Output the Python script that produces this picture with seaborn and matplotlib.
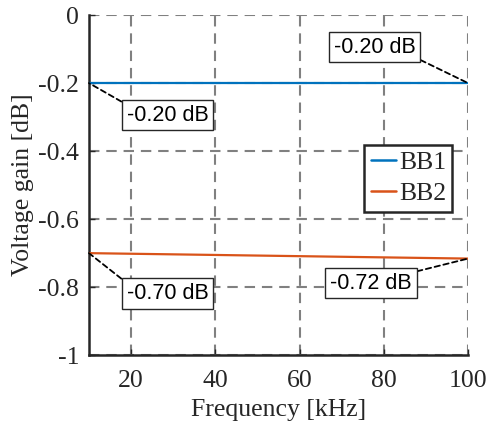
import matplotlib
matplotlib.use("Agg")
import matplotlib.pyplot as plt
import seaborn as sns
import pandas as pd

freq = [10, 100]
bb1 = [-0.20, -0.20]
bb2 = [-0.70, -0.716]
series_names = ["BB1", "BB2"]
colors = ["#0072BD", "#D95319"]
xticks = [20, 40, 60, 80, 100]
yticks = [0, -0.2, -0.4, -0.6, -0.8, -1]
ytick_labels = ["0", "-0.2", "-0.4", "-0.6", "-0.8", "-1"]

sns.set_theme(style="ticks")
plt.rcParams["font.family"] = ["Liberation Serif", "DejaVu Serif"]
plt.rcParams["axes.unicode_minus"] = False

df = pd.DataFrame({
    "freq": freq + freq,
    "gain": bb1 + bb2,
    "series": [series_names[0]] * len(freq) + [series_names[1]] * len(freq),
})

fig = plt.figure(figsize=(4.86, 4.30), dpi=100)
ax = fig.add_axes([0.183, 0.174, 0.780, 0.791])

sns.lineplot(data=df, x="freq", y="gain", hue="series", palette=colors,
             linewidth=1.6, ax=ax, zorder=3)

ax.set_xlim(10, 100)
ax.set_ylim(-1, 0)
ax.set_xticks(xticks)
ax.set_xticklabels([str(t) for t in xticks])
ax.set_yticks(yticks)
ax.set_yticklabels(ytick_labels)
ax.tick_params(direction="in", length=4, width=1, labelsize=18.5, colors="#262626")
ax.tick_params(axis="x", pad=11)
ax.tick_params(axis="y", pad=7)
for lbl in ax.get_xticklabels() + ax.get_yticklabels():
    lbl.set_color("#262626")

ax.grid(True, color="#808080", linewidth=1.5, linestyle=(0, (5, 3.3)), zorder=1)
ax.set_axisbelow(True)
for s in ["top", "right"]:
    ax.spines[s].set_visible(False)
for s in ["left", "bottom"]:
    ax.spines[s].set_linewidth(1.8)
    ax.spines[s].set_color("#262626")

ax.set_xlabel("Frequency [kHz]", fontsize=18.5, color="#262626", labelpad=5)
ax.set_ylabel("Voltage gain [dB]", fontsize=18.5, color="#262626", labelpad=3)

leg = ax.legend(loc="upper left", bbox_to_anchor=(0.726, 0.618), borderaxespad=0,
                fontsize=18.5, handlelength=1.0, handletextpad=0.1, borderpad=0.25,
                labelspacing=0.3, fancybox=False, edgecolor="#262626", framealpha=1)
leg.get_frame().set_linewidth(1.8)
for line in leg.get_lines():
    line.set_linewidth(1.8)

def note(xy, text_xy, relpos):
    ax.annotate(f"{xy[1]:.2f} dB", xy=xy, xytext=text_xy, textcoords="data",
                ha="center", va="center", fontsize=15.5,
                family=["Liberation Sans", "DejaVu Sans"], color="black",
                bbox=dict(boxstyle="square,pad=0.22", fc="white", ec="#262626", lw=1),
                arrowprops=dict(arrowstyle="-", linestyle=(0, (3, 2)), color="black",
                                lw=1.3, relpos=relpos, shrinkA=0, shrinkB=0),
                zorder=5, annotation_clip=False)

note((freq[0], bb1[0]), (28.64, -0.294), (0, 1))
note((freq[-1], bb1[-1]), (77.8, -0.094), (1, 0))
note((freq[0], bb2[0]), (28.64, -0.818), (0, 1))
note((freq[-1], bb2[-1]), (76.97, -0.788), (1, 1))

fig.savefig("out.png", dpi=100)
